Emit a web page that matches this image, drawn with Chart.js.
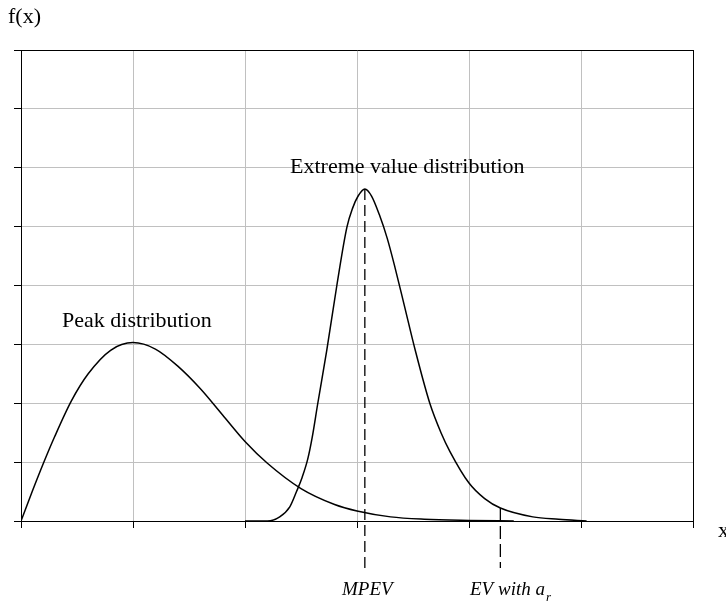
<!DOCTYPE html>
<html>
<head>
<meta charset="utf-8">
<script src="https://cdn.jsdelivr.net/npm/chart.js@4"></script>
<style>
  html, body { margin: 0; padding: 0; background: #fff; }
  #wrap { width: 726px; height: 604px; }
</style>
</head>
<body>
<div id="wrap"><canvas id="chart" width="726" height="604"></canvas></div>
<script>
// peak distribution f(x)
const peakX = [0, 0.1, 0.2, 0.3, 0.45, 0.6, 0.8, 1.0, 1.2, 1.4, 1.6, 1.8, 2.0, 2.2, 2.5, 2.8, 3.0, 3.3, 3.6, 4.0, 4.4];
const peakY = [0, 0.50, 0.98, 1.43, 2.04, 2.50, 2.90, 3.03, 2.92, 2.63, 2.25, 1.80, 1.35, 0.98, 0.55, 0.28, 0.17, 0.07, 0.03, 0.01, 0];

// extreme value distribution f(x)
const evX = [2.0, 2.2, 2.31, 2.4, 2.46, 2.51, 2.56, 2.6, 2.65, 2.73, 2.82, 2.91, 2.96, 3.01, 3.07, 3.13, 3.2, 3.27, 3.34, 3.42, 3.52, 3.65, 3.75, 3.83, 4.0, 4.14, 4.28, 4.57, 4.8, 5.05];
const evY = [0, 0, 0.07, 0.24, 0.50, 0.74, 1.05, 1.42, 2.0, 2.9, 4.0, 4.99, 5.31, 5.52, 5.64, 5.52, 5.20, 4.80, 4.30, 3.68, 2.90, 2.00, 1.50, 1.18, 0.645, 0.38, 0.22, 0.07, 0.03, 0];

// marker lines: most probable extreme value and EV with a_r
const mpevX = 3.07, mpevY = 5.64;
const evArX = 4.28, evArY = 0.22;
const markerBottom = -0.8;

// axis ranges (no tick labels shown)
const xMax = 6, yMax = 8;

const toPts = (xs, ys) => xs.map((x, i) => ({ x, y: ys[i] }));

const serif = '"Liberation Serif", "Times New Roman", serif';

const labelsPlugin = {
  id: 'labels',
  afterDraw(chart) {
    const ctx = chart.ctx;
    ctx.save();
    ctx.fillStyle = '#000';
    ctx.textBaseline = 'alphabetic';
    ctx.textAlign = 'left';
    ctx.font = '22px ' + serif;
    ctx.fillText('f(x)', 8, 23);
    ctx.fillText('x', 718, 537);
    ctx.fillText('Extreme value distribution', 290, 173);
    ctx.fillText('Peak distribution', 62, 327);

    ctx.font = 'italic 19px ' + serif;
    ctx.fillText('MPEV', 342, 595);
    const ev = 'EV with a';
    ctx.fillText(ev, 470, 595);
    const w = ctx.measureText(ev).width;
    ctx.font = 'italic 13px ' + serif;
    ctx.fillText('r', 470 + w + 1, 601);
    ctx.restore();
  }
};

const edgeColor = (max) => (c) => (c.tick && (c.tick.value === 0 || c.tick.value === max)) ? '#000' : '#c0c0c0';

new Chart(document.getElementById('chart'), {
  type: 'line',
  data: {
    datasets: [
      {
        data: toPts(peakX, peakY),
        borderColor: '#000',
        borderWidth: 1.5,
        pointRadius: 0,
        cubicInterpolationMode: 'monotone'
      },
      {
        data: toPts(evX, evY),
        borderColor: '#000',
        borderWidth: 1.5,
        pointRadius: 0,
        cubicInterpolationMode: 'monotone'
      },
      {
        data: [{ x: mpevX, y: mpevY }, { x: mpevX, y: markerBottom }],
        borderColor: '#000',
        borderWidth: 1.3,
        borderDash: [11, 5],
        pointRadius: 0,
        clip: false
      },
      {
        data: [{ x: evArX, y: evArY }, { x: evArX, y: markerBottom }],
        borderColor: '#000',
        borderWidth: 1.3,
        borderDash: [13, 5],
        pointRadius: 0,
        clip: false
      }
    ]
  },
  options: {
    responsive: false,
    animation: false,
    layout: { padding: { left: 14, top: 50, right: 33, bottom: 76 } },
    plugins: { legend: { display: false }, tooltip: { enabled: false } },
    scales: {
      x: {
        type: 'linear',
        min: 0,
        max: xMax,
        ticks: { display: false, stepSize: 1 },
        grid: { color: edgeColor(xMax), tickColor: '#000', tickLength: 7, lineWidth: 1 },
        border: { display: true, color: '#000', width: 1 },
        afterFit(s) { s.height = 7; }
      },
      y: {
        min: 0,
        max: yMax,
        ticks: { display: false, stepSize: 1 },
        grid: { color: edgeColor(yMax), tickColor: '#000', tickLength: 7, lineWidth: 1 },
        border: { display: true, color: '#000', width: 1 },
        afterFit(s) { s.width = 7; }
      }
    }
  },
  plugins: [labelsPlugin]
});
</script>
</body>
</html>
